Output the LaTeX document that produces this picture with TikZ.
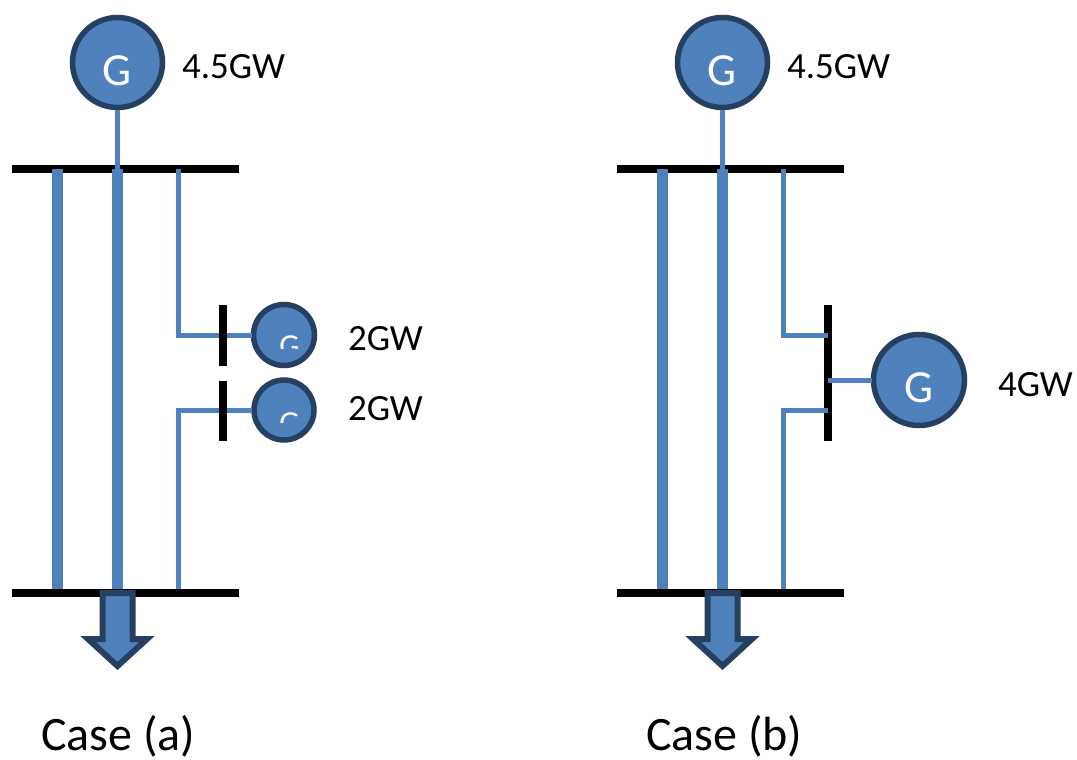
\documentclass[tikz,border=0pt]{standalone}
\usepackage{fontspec}
\setmainfont{Carlito}
\definecolor{fillblue}{RGB}{79,129,189}
\definecolor{edgeblue}{RGB}{37,64,97}
\tikzset{
  every node/.style={inner sep=0pt,outer sep=0pt},
  gen/.style={circle,draw=edgeblue,line width=5.5pt,fill=fillblue,text=white,minimum size=#1,outer sep=2pt},
  busbar/.style={fill=black,minimum width=227pt,minimum height=8pt},
  stub/.style={fill=black,minimum width=8pt},
  heavy/.style={draw=fillblue,line width=11pt},
  light/.style={draw=fillblue,line width=5pt},
  lbl/.style={font=\fontsize{37}{37}\selectfont,anchor=base west},
  caselbl/.style={font=\fontsize{48}{48}\selectfont,anchor=base west},
  genfont/.style={font=\fontsize{46}{46}\selectfont},
  smallg/.style={font=\fontsize{32}{32}\selectfont,text=white,anchor=base},
  loadarrow/.style={draw=edgeblue,line width=6pt,fill=fillblue,miter limit=10}
}
\newcommand{\commonpart}{%
  \node[busbar] (top) at (125,168.5) {};
  \node[busbar] (bot) at (125,592.5) {};
  \node[gen=90pt] (main) at (117.5,62.5) {};
  \node[genfont,text=white,anchor=base] (maing) at (117.5,85) {G};
  \coordinate (m1) at (57,168.5); \coordinate (m2) at (117.5,168.5);
  \coordinate (e1) at (57,588.5); \coordinate (e2) at (117.5,588.5);
  \draw[heavy] (m1) -- (e1);
  \draw[heavy] (m2) -- (e2);
  \draw[light] (main.south) -- (m2);
  \node[lbl] (mainlbl) at (182,78) {4.5GW};
  \filldraw[loadarrow] (102.5,593) -- (132.5,593) -- (132.5,639) -- (147,639) -- (117.5,666) -- (88,639) -- (102.5,639) -- cycle;
}
\begin{document}
\begin{tikzpicture}[x=1pt,y=-1pt]
\useasboundingbox (0,0) rectangle (1077,760);
% Case (a)
\begin{scope}[name prefix=a-]
  \commonpart
  \node[caselbl] (case) at (41,750) {Case (a)};
  \node[gen=61pt] (g1) at (284,335) {};
  \node[gen=60pt] (g2) at (284,410) {};
  \begin{scope}
    \clip (260,330) rectangle (310,348.5);
    \node[smallg] (t1) at (289.5,356) {G};
  \end{scope}
  \begin{scope}
    \clip (260,405) rectangle (310,422.5);
    \node[smallg] (t2) at (289.5,433) {G};
  \end{scope}
  \coordinate (j1) at (178,335);
  \coordinate (j2) at (178,410);
  \draw[light] (178,168.5) -- (j1) -- (g1.west);
  \draw[light] (178,588.5) -- (j2) -- (g2.west);
  \node[stub,minimum height=61pt] (s1) at (223,335.5) {};
  \node[stub,minimum height=60pt] (s2) at (223,411) {};
  \node[lbl] (l1) at (348,350) {2GW};
  \node[lbl] (l2) at (348,420) {2GW};
\end{scope}
% Case (b)
\begin{scope}[shift={(605,0)},name prefix=b-]
  \commonpart
  \node[caselbl] (case) at (41,750) {Case (b)};
  \node[stub,minimum height=136pt] (s) at (223,373) {};
  \node[gen=91pt] (g) at (314,380) {};
  \node[genfont,text=white,anchor=base] (gg) at (314,402) {G};
  \draw[light] (178,168.5) -- (178,335) -- (s.center |- 0,335);
  \draw[light] (178,588.5) -- (178,410.5) -- (s.center |- 0,410.5);
  \draw[light] (s.center |- g) -- (g.west);
  \node[lbl] (l) at (393,396) {4GW};
\end{scope}
\end{tikzpicture}
\end{document}
